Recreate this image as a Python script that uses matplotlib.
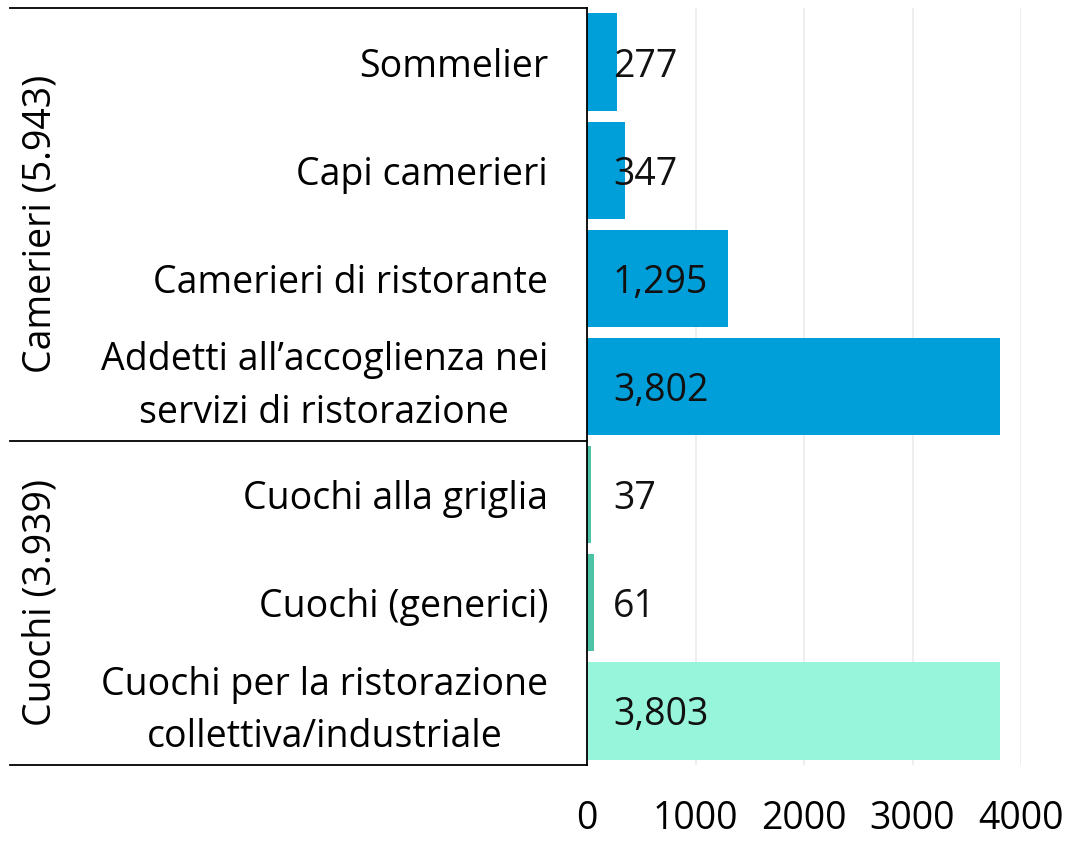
import matplotlib
matplotlib.use("Agg")
import matplotlib.pyplot as plt
from matplotlib.lines import Line2D

plt.rcParams["font.family"] = ["Open Sans", "DejaVu Sans"]

categories = [
    "Sommelier",
    "Capi camerieri",
    "Camerieri di ristorante",
    "Addetti all\u2019accoglienza nei\nservizi di ristorazione",
    "Cuochi alla griglia",
    "Cuochi (generici)",
    "Cuochi per la ristorazione\ncollettiva/industriale",
]
values = [277, 347, 1295, 3802, 37, 61, 3803]
bar_colors = ["#009fda", "#009fda", "#009fda", "#009fda",
              "#4cc3a5", "#4cc3a5", "#96f5db"]
groups = ["Camerieri (5.943)", "Cuochi (3.939)"]
group_sizes = [4, 3]
xticks = [0, 1000, 2000, 3000, 4000]

FS = 27
W, H = 1066, 841
fig = plt.figure(figsize=(W / 100, H / 100), dpi=100)
left, right, top, bottom = 587, 1021, 8, 765
ax = fig.add_axes([left / W, 1 - bottom / H, (right - left) / W, (bottom - top) / H])

ypos = list(range(len(categories)))
ax.barh(ypos, values, height=0.9, color=bar_colors, zorder=2)
ax.set_xlim(0, 4000)
ax.set_ylim(len(categories) - 0.5, -0.5)

for y, v in zip(ypos, values):
    ax.text(240, y, f"{v:,}", va="center_baseline", ha="left", fontsize=FS,
            color="#111111", zorder=3)

ax.set_xticks(xticks)
ax.set_xticklabels([str(t) for t in xticks], fontsize=FS)
ax.tick_params(axis="x", length=0, pad=25)
ax.set_yticks(ypos)
ax.set_yticklabels(categories, fontsize=FS, multialignment="center",
                   linespacing=1.5)
for lbl in ax.get_yticklabels():
    if "\n" in lbl.get_text():
        lbl.set_va("center")
ax.tick_params(axis="y", length=0, pad=28)
ax.grid(axis="x", color="#ebebeb", linewidth=1.2, zorder=0)
for s in ["top", "right", "bottom"]:
    ax.spines[s].set_visible(False)
ax.spines["left"].set_color("black")
ax.spines["left"].set_linewidth(1.3)
ax.spines["left"].set_zorder(4)

# group separator lines and group labels
x0 = 10 / W
xa = left / W
boundaries = [0]
for g in group_sizes:
    boundaries.append(boundaries[-1] + g)
row_h = (bottom - top) / len(categories)
for b in boundaries:
    yy = 1 - (top + b * row_h) / H
    fig.add_artist(Line2D([x0, xa], [yy, yy], color="black", linewidth=1.3))
for i, name in enumerate(groups):
    mid = (boundaries[i] + boundaries[i + 1]) / 2
    yy = 1 - (top + mid * row_h) / H
    fig.text(40 / W, yy, name, rotation=90, ha="center", va="center", fontsize=FS)

fig.savefig("out.png", dpi=100)
